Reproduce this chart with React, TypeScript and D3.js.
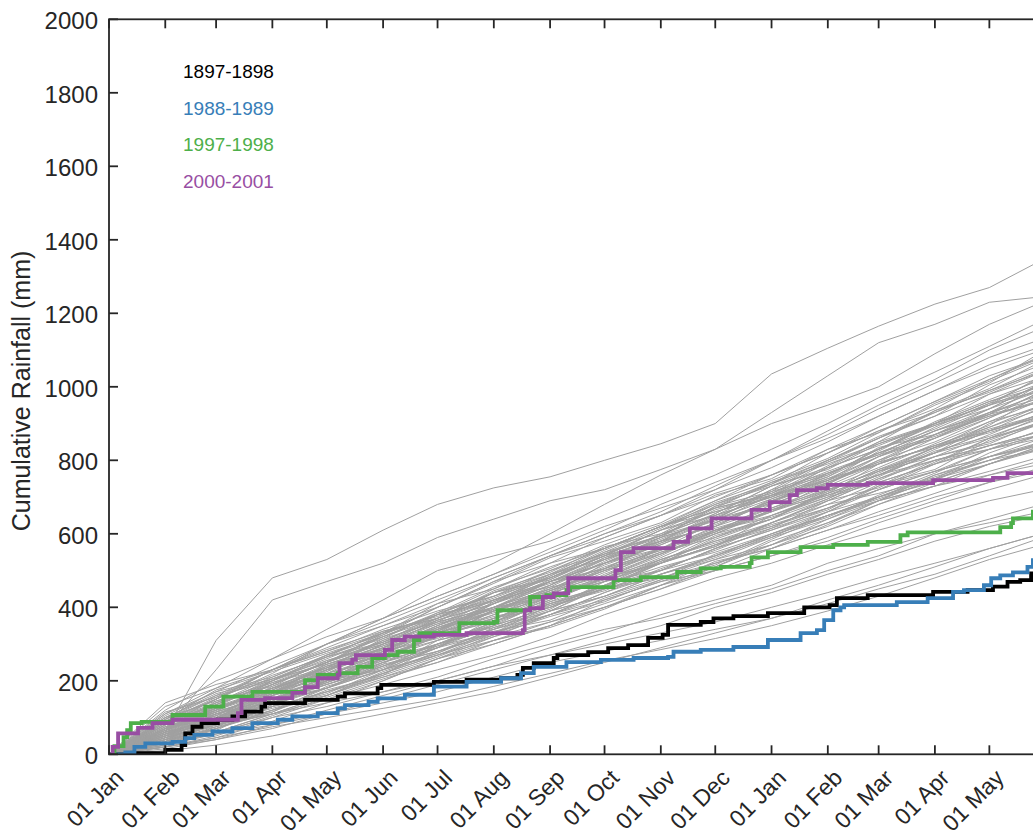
import React, { useEffect, useRef } from "react";
import * as d3 from "d3";

// day offsets (from 01 Jan) where each gray record is sampled: month starts + last day
const monthDays = [0, 31, 59, 90, 120, 151, 181, 212, 243, 273, 304, 334, 365, 396, 424, 455, 485, 514];

// cumulative rainfall (mm) of the other years, read at monthDays
const grayRuns: number[][] = [
  [0, 60, 310, 480, 530, 610, 680, 725, 755, 800, 845, 900, 1035, 1105, 1165, 1225, 1270, 1345],
  [0, 70, 230, 420, 470, 520, 590, 640, 690, 720, 775, 830, 930, 1030, 1120, 1170, 1230, 1245],
  [0, 95, 150, 230, 290, 350, 400, 470, 520, 590, 650, 700, 760, 820, 880, 930, 990, 1040],
  [0, 40, 70, 120, 180, 250, 300, 340, 410, 450, 520, 590, 640, 720, 760, 820, 900, 950],
  [0, 70, 130, 180, 220, 260, 320, 390, 430, 470, 500, 540, 600, 650, 690, 760, 800, 830],
  [0, 20, 45, 90, 140, 200, 260, 300, 350, 420, 470, 500, 560, 610, 650, 700, 740, 780],
  [0, 110, 170, 210, 270, 330, 410, 450, 520, 560, 620, 680, 730, 780, 850, 900, 960, 1010],
  [0, 55, 90, 150, 230, 280, 320, 370, 400, 450, 490, 530, 570, 640, 700, 750, 820, 870],
  [0, 30, 60, 100, 130, 170, 210, 260, 300, 340, 370, 410, 450, 500, 540, 600, 640, 680],
  [0, 80, 120, 190, 250, 300, 370, 420, 480, 540, 610, 660, 700, 760, 830, 900, 950, 990],
  [0, 60, 110, 140, 180, 240, 290, 350, 420, 490, 550, 600, 660, 720, 770, 810, 850, 900],
  [0, 45, 80, 130, 200, 230, 270, 310, 360, 400, 450, 510, 580, 630, 680, 740, 790, 840],
  [0, 130, 180, 260, 320, 370, 430, 490, 560, 620, 670, 720, 800, 860, 920, 990, 1060, 1110],
  [0, 25, 55, 80, 120, 160, 200, 240, 290, 330, 380, 420, 460, 520, 560, 600, 630, 660],
  [0, 70, 100, 170, 210, 280, 350, 400, 450, 510, 560, 630, 690, 740, 800, 870, 920, 960],
  [0, 50, 95, 140, 190, 240, 300, 360, 430, 470, 530, 580, 620, 680, 710, 750, 800, 850],
  [0, 90, 140, 200, 260, 320, 370, 440, 490, 530, 580, 650, 720, 800, 860, 930, 990, 1050],
  [0, 35, 90, 150, 210, 260, 330, 370, 410, 460, 500, 560, 630, 690, 750, 800, 840, 880],
  [0, 65, 120, 170, 240, 290, 350, 420, 470, 520, 590, 640, 680, 740, 790, 840, 880, 920],
  [0, 15, 40, 70, 110, 150, 190, 230, 270, 310, 350, 400, 440, 490, 530, 580, 620, 650],
  [0, 100, 160, 230, 280, 340, 390, 430, 490, 560, 620, 670, 740, 790, 840, 900, 960, 1000],
  [0, 55, 85, 130, 170, 220, 280, 330, 390, 460, 510, 550, 600, 650, 700, 760, 810, 860],
  [0, 40, 90, 160, 200, 260, 330, 390, 440, 480, 540, 610, 670, 730, 790, 860, 930, 980],
  [0, 75, 110, 160, 230, 270, 320, 370, 420, 480, 520, 570, 620, 670, 720, 770, 810, 840],
  [0, 60, 100, 140, 180, 230, 290, 330, 380, 420, 470, 520, 570, 630, 690, 730, 760, 790],
  [0, 85, 150, 220, 300, 360, 420, 480, 540, 600, 650, 720, 780, 850, 920, 990, 1050, 1100],
  [0, 30, 70, 120, 160, 210, 250, 300, 350, 400, 460, 500, 540, 590, 640, 690, 740, 770],
  [0, 50, 110, 170, 220, 270, 340, 400, 460, 520, 570, 630, 690, 750, 810, 880, 940, 990],
  [0, 120, 200, 260, 340, 420, 500, 540, 580, 640, 700, 760, 830, 900, 970, 1040, 1110, 1180],
  [0, 65, 115, 160, 200, 250, 300, 350, 400, 450, 480, 520, 560, 610, 660, 710, 760, 800],
  [0, 45, 85, 140, 190, 240, 280, 340, 380, 430, 490, 540, 600, 660, 730, 770, 830, 870],
  [0, 70, 125, 180, 230, 300, 360, 400, 470, 520, 580, 620, 670, 720, 770, 820, 860, 900],
  [0, 20, 50, 100, 150, 190, 230, 270, 320, 380, 430, 480, 520, 570, 610, 650, 690, 720],
  [0, 90, 130, 170, 230, 280, 340, 390, 450, 500, 550, 590, 650, 710, 760, 820, 880, 920],
  [0, 55, 100, 160, 220, 290, 350, 410, 470, 520, 560, 610, 650, 700, 740, 790, 830, 870],
  [0, 40, 80, 120, 170, 210, 260, 310, 350, 400, 450, 500, 540, 580, 630, 680, 720, 760],
  [0, 105, 170, 240, 300, 350, 410, 480, 540, 590, 650, 710, 760, 820, 890, 960, 1030, 1080],
  [0, 60, 90, 140, 200, 260, 310, 350, 400, 460, 520, 570, 630, 680, 740, 790, 840, 880],
  [0, 35, 75, 110, 150, 200, 260, 320, 380, 440, 490, 540, 590, 640, 690, 730, 770, 810],
  [0, 80, 140, 190, 250, 310, 370, 430, 480, 540, 610, 680, 740, 800, 860, 920, 980, 1040],
  [0, 25, 60, 110, 160, 220, 270, 320, 360, 410, 460, 510, 570, 620, 680, 730, 790, 840],
  [0, 70, 120, 180, 240, 290, 330, 380, 430, 480, 530, 580, 630, 690, 750, 810, 870, 930],
  [0, 50, 90, 130, 170, 220, 270, 330, 380, 440, 500, 560, 610, 670, 720, 770, 810, 850],
  [0, 95, 160, 200, 250, 320, 380, 450, 510, 560, 620, 670, 710, 770, 820, 880, 930, 970],
  [0, 10, 25, 50, 80, 110, 140, 170, 210, 250, 290, 330, 370, 420, 460, 510, 560, 600],
  [0, 65, 105, 175, 235, 285, 345, 395, 445, 505, 555, 605, 665, 715, 775, 835, 885, 925],
  [0, 45, 100, 150, 180, 230, 290, 360, 410, 450, 500, 560, 610, 660, 700, 740, 790, 830],
  [0, 140, 190, 230, 280, 330, 380, 420, 470, 530, 600, 650, 700, 750, 790, 840, 890, 940],
  [0, 30, 70, 130, 200, 260, 300, 340, 390, 430, 480, 530, 590, 660, 720, 790, 860, 920],
  [0, 60, 120, 180, 230, 270, 320, 380, 440, 500, 560, 610, 660, 710, 760, 800, 840, 870],
  [0, 20, 45, 75, 100, 125, 150, 185, 220, 255, 285, 315, 350, 390, 430, 480, 530, 570],
  [0, 20, 40, 80, 110, 140, 170, 210, 250, 280, 310, 340, 370, 410, 450, 490, 540, 590],
  [0, 50, 80, 110, 140, 170, 200, 240, 270, 300, 330, 360, 400, 440, 480, 520, 560, 600],
  [0, 80, 130, 200, 270, 330, 400, 470, 540, 600, 660, 730, 800, 880, 950, 1020, 1100, 1160],
  [0, 110, 180, 230, 300, 370, 430, 490, 550, 610, 680, 740, 800, 870, 940, 1010, 1080, 1130],
  [0, 70, 140, 210, 270, 320, 380, 440, 500, 560, 620, 690, 760, 830, 890, 960, 1020, 1080],
  [0, 90, 150, 230, 300, 370, 450, 520, 600, 680, 760, 830, 900, 950, 1000, 1090, 1170, 1230],
  [0, 40, 95, 165, 230, 290, 365, 410, 460, 535, 580, 640, 715, 760, 830, 895, 940, 1010],
  [0, 80, 125, 170, 225, 290, 335, 415, 465, 505, 555, 620, 690, 735, 800, 850, 915, 975],
  [0, 50, 75, 145, 215, 265, 320, 365, 445, 505, 575, 625, 685, 765, 815, 860, 925, 960],
  [0, 100, 145, 195, 235, 310, 365, 420, 455, 525, 590, 635, 705, 745, 795, 870, 925, 985],
  [0, 35, 65, 135, 195, 245, 340, 385, 425, 480, 545, 610, 645, 700, 770, 835, 880, 945],
  [0, 60, 145, 185, 255, 305, 355, 395, 470, 535, 595, 655, 730, 775, 845, 895, 955, 1025],
  [0, 75, 95, 150, 210, 255, 295, 355, 415, 480, 520, 585, 640, 715, 775, 820, 880, 925],
  [0, 55, 115, 165, 245, 285, 330, 410, 470, 505, 580, 620, 695, 745, 825, 900, 950, 1030],
  [0, 90, 135, 205, 245, 295, 345, 390, 455, 485, 545, 605, 665, 705, 745, 810, 845, 905],
  [0, 20, 70, 115, 185, 230, 310, 345, 395, 470, 525, 595, 640, 710, 790, 840, 895, 985],
  [0, 65, 135, 195, 250, 330, 370, 445, 495, 565, 600, 675, 735, 800, 865, 920, 1005, 1060],
  [0, 45, 85, 150, 190, 235, 295, 330, 405, 445, 505, 555, 615, 690, 725, 795, 860, 905],
  [0, 115, 155, 230, 285, 335, 370, 440, 475, 545, 595, 670, 705, 780, 830, 905, 965, 1020],
  [0, 30, 85, 125, 165, 230, 275, 335, 365, 425, 475, 515, 585, 650, 695, 745, 810, 845],
  [0, 70, 105, 185, 235, 315, 385, 430, 500, 545, 595, 640, 720, 765, 815, 890, 955, 990],
  [0, 50, 110, 150, 200, 280, 315, 390, 445, 485, 560, 615, 660, 740, 795, 835, 905, 965],
  [0, 85, 125, 175, 240, 275, 335, 400, 430, 520, 575, 640, 695, 755, 835, 870, 930, 1000],
  [0, 60, 95, 160, 205, 260, 330, 375, 405, 460, 530, 575, 625, 670, 730, 800, 830, 885],
  [0, 40, 60, 110, 160, 225, 275, 345, 390, 455, 520, 565, 650, 705, 760, 830, 890, 950],
  [0, 95, 175, 225, 275, 325, 400, 465, 535, 580, 630, 705, 750, 830, 875, 955, 1015, 1075],
  [0, 25, 75, 130, 160, 215, 300, 360, 425, 470, 520, 570, 615, 665, 735, 775, 855, 905],
  [0, 70, 115, 165, 225, 300, 340, 410, 475, 540, 580, 655, 730, 795, 845, 900, 980, 1025],
  [0, 55, 105, 145, 195, 255, 325, 360, 415, 455, 525, 565, 630, 695, 765, 835, 875, 920],
  [0, 80, 150, 215, 265, 335, 375, 425, 485, 555, 620, 660, 705, 765, 820, 880, 925, 1010],
  [0, 65, 125, 180, 245, 295, 355, 420, 480, 540, 590, 675, 715, 795, 860, 935, 995, 1070],
  [0, 45, 80, 115, 175, 215, 265, 325, 375, 415, 475, 545, 595, 645, 705, 765, 830, 860],
  [0, 90, 155, 205, 265, 305, 380, 415, 490, 545, 610, 650, 700, 780, 830, 885, 950, 1005],
  [0, 35, 80, 140, 205, 270, 310, 395, 445, 500, 545, 600, 665, 725, 780, 845, 905, 945],
  [0, 75, 115, 200, 265, 315, 360, 440, 480, 550, 615, 685, 735, 820, 880, 940, 1020, 1085],
  [0, 55, 110, 150, 195, 250, 290, 370, 430, 475, 535, 600, 640, 695, 755, 825, 865, 915],
  [0, 100, 165, 205, 255, 300, 360, 400, 460, 530, 585, 645, 705, 755, 820, 865, 920, 965],
  [0, 30, 55, 105, 155, 205, 250, 310, 345, 395, 460, 525, 560, 625, 690, 750, 790, 835],
  [0, 65, 120, 190, 250, 305, 365, 410, 485, 550, 595, 665, 710, 785, 850, 935, 985, 1045],
  [0, 50, 100, 165, 210, 285, 335, 390, 435, 495, 560, 605, 680, 735, 810, 860, 915, 990],
  [0, 85, 135, 190, 250, 325, 385, 455, 505, 570, 625, 690, 745, 805, 875, 950, 1010, 1095],
  [0, 40, 90, 135, 180, 245, 280, 325, 390, 430, 490, 535, 595, 650, 700, 755, 800, 845],
  [0, 70, 125, 175, 235, 275, 345, 400, 450, 515, 570, 630, 685, 745, 810, 870, 940, 1010],
];

// highlighted years: [day since 01 Jan, cumulative mm] at each step
const run1897: [number, number][] = [
  [0, 0], [16, 3], [31, 12], [40, 25], [42, 57], [46, 75], [51, 85], [60, 94], [68, 103], [75, 116],
  [84, 130], [86, 139], [108, 148], [126, 157], [130, 166], [148, 180], [150, 189], [179, 197],
  [197, 203], [216, 207], [225, 216], [228, 235], [234, 248], [245, 262], [247, 270], [264, 278],
  [275, 289], [286, 297], [297, 317], [305, 325], [308, 352], [326, 360], [333, 370], [344, 376],
  [363, 384], [383, 400], [397, 406], [401, 425], [418, 433], [454, 442], [473, 447], [487, 456],
  [495, 469], [502, 474], [508, 492], [514, 500],
];
const run1988: [number, number][] = [
  [0, 0], [9, 5], [14, 20], [20, 30], [35, 34], [42, 44], [47, 53], [57, 62], [68, 71], [79, 85],
  [93, 94], [101, 103], [115, 112], [126, 125], [130, 134], [143, 143], [148, 152], [163, 162],
  [179, 184], [197, 197], [216, 207], [227, 221], [234, 238], [252, 251], [271, 257], [289, 262],
  [308, 265], [311, 279], [326, 284], [344, 292], [363, 311], [381, 330], [390, 338], [394, 365],
  [399, 392], [403, 400], [405, 406], [434, 414], [451, 425], [465, 442], [471, 447], [482, 460],
  [486, 479], [491, 487], [498, 495], [506, 510], [509, 528], [514, 535],
];
const run1997: [number, number][] = [
  [0, 0], [3, 22], [8, 47], [10, 66], [12, 85], [18, 88], [35, 107], [53, 130], [63, 157],
  [79, 170], [108, 202], [115, 216], [126, 221], [137, 238], [145, 262], [152, 270], [159, 279],
  [168, 311], [171, 330], [193, 357], [212, 360], [214, 392], [232, 428], [241, 433], [252, 447],
  [254, 455], [278, 474], [293, 482], [313, 496], [326, 506], [337, 510], [353, 520], [354, 536],
  [363, 550], [381, 564], [399, 570], [418, 578], [436, 596], [440, 604], [491, 618], [497, 629],
  [498, 642], [509, 660], [514, 665],
];
const run2000: [number, number][] = [
  [0, 0], [2, 20], [5, 57], [16, 72], [24, 85], [35, 94], [71, 112], [73, 148], [86, 153],
  [101, 167], [108, 183], [115, 207], [126, 216], [127, 248], [134, 257], [136, 270], [152, 284],
  [156, 311], [163, 320], [179, 325], [197, 330], [228, 338], [229, 392], [232, 398], [239, 428],
  [245, 438], [253, 479], [279, 501], [282, 550], [289, 561], [311, 578], [319, 592], [320, 615],
  [332, 642], [354, 665], [364, 686], [375, 705], [379, 719], [390, 724], [396, 733], [418, 738],
  [454, 746], [487, 752], [495, 765], [514, 768],
];

const legendNames = ["1897-1898", "1988-1989", "1997-1998", "2000-2001"];
const legendColors = ["#000000", "#377eb8", "#4daf4a", "#984ea3"];
const yTicks = [0, 200, 400, 600, 800, 1000, 1200, 1400, 1600, 1800, 2000];

const W = 1033;
const H = 839;
const margin = { left: 109, top: 19.3, right: 1042, bottom: 754.3 };

const App: React.FC = () => {
  const ref = useRef<SVGSVGElement>(null);

  useEffect(() => {
    const svg = d3.select(ref.current);
    svg.selectAll("*").remove();

    const start = new Date(2001, 0, 1);
    const toDate = (d: number) => d3.timeDay.offset(start, d);

    const x = d3
      .scaleTime()
      .domain([start, toDate(514)])
      .range([margin.left, margin.right]);
    const y = d3.scaleLinear().domain([0, 2000]).range([margin.bottom, margin.top]);

    const font = "'Liberation Sans', Arial, Helvetica, sans-serif";
    const axisColor = "#262626";

    svg
      .append("defs")
      .append("clipPath")
      .attr("id", "plotclip")
      .append("rect")
      .attr("x", margin.left)
      .attr("y", margin.top)
      .attr("width", margin.right - margin.left)
      .attr("height", margin.bottom - margin.top);

    const plot = svg.append("g").attr("clip-path", "url(#plotclip)");

    const grayLine = d3
      .line<number>()
      .x((_v, i) => x(toDate(monthDays[i])))
      .y((v) => y(v));

    plot
      .selectAll("path.gray")
      .data(grayRuns)
      .enter()
      .append("path")
      .attr("class", "gray")
      .attr("d", (d) => grayLine(d))
      .attr("fill", "none")
      .attr("stroke", "#a0a0a0")
      .attr("stroke-width", 1);

    const stepLine = d3
      .line<[number, number]>()
      .x((d) => x(toDate(d[0])))
      .y((d) => y(d[1]))
      .curve(d3.curveStepAfter);

    [run1897, run1988, run1997, run2000].forEach((run, i) => {
      plot
        .append("path")
        .attr("d", stepLine(run))
        .attr("fill", "none")
        .attr("stroke", legendColors[i])
        .attr("stroke-width", 3.8)
        .attr("stroke-linejoin", "miter");
    });

    // box axes, ticks pointing inward
    const tickLen = 9;
    const monthTicks = d3.timeMonth.range(start, toDate(515));

    const axes = svg.append("g").attr("stroke", axisColor).attr("stroke-width", 1.8);
    axes
      .append("rect")
      .attr("x", margin.left)
      .attr("y", margin.top)
      .attr("width", margin.right - margin.left)
      .attr("height", margin.bottom - margin.top)
      .attr("fill", "none");

    monthTicks.forEach((t) => {
      const px = x(t);
      axes.append("line").attr("x1", px).attr("x2", px).attr("y1", margin.bottom).attr("y2", margin.bottom - tickLen);
      axes.append("line").attr("x1", px).attr("x2", px).attr("y1", margin.top).attr("y2", margin.top + tickLen);
    });
    yTicks.forEach((v) => {
      const py = y(v);
      axes.append("line").attr("x1", margin.left).attr("x2", margin.left + tickLen).attr("y1", py).attr("y2", py);
      axes.append("line").attr("x1", margin.right).attr("x2", margin.right - tickLen).attr("y1", py).attr("y2", py);
    });

    const fmt = d3.timeFormat("%d %b");
    svg
      .append("g")
      .selectAll("text")
      .data(monthTicks)
      .enter()
      .append("text")
      .attr("transform", (t) => `translate(${x(t) + 16},${margin.bottom + 25}) rotate(-45)`)
      .attr("text-anchor", "end")
      .attr("font-family", font)
      .attr("font-size", 23)
      .attr("fill", axisColor)
      .text((t) => fmt(t));

    svg
      .append("g")
      .selectAll("text")
      .data(yTicks)
      .enter()
      .append("text")
      .attr("x", margin.left - 11)
      .attr("y", (v) => y(v) + 1.5)
      .attr("text-anchor", "end")
      .attr("dominant-baseline", "central")
      .attr("font-family", font)
      .attr("font-size", 24)
      .attr("fill", axisColor)
      .text((v) => String(v));

    svg
      .append("text")
      .attr("transform", `translate(30,391) rotate(-90)`)
      .attr("text-anchor", "middle")
      .attr("font-family", font)
      .attr("font-size", 25)
      .attr("fill", axisColor)
      .text("Cumulative Rainfall (mm)");

    svg
      .append("g")
      .selectAll("text")
      .data(legendNames)
      .enter()
      .append("text")
      .attr("x", 183)
      .attr("y", (_d, i) => 78 + i * 36.7)
      .attr("font-family", font)
      .attr("font-size", 19)
      .attr("fill", (_d, i) => legendColors[i])
      .text((d) => d);
  }, []);

  return (
    <svg
      ref={ref}
      width={W}
      height={H}
      style={{ position: "absolute", left: 0, top: 0, background: "#fff" }}
    />
  );
};

export default App;
